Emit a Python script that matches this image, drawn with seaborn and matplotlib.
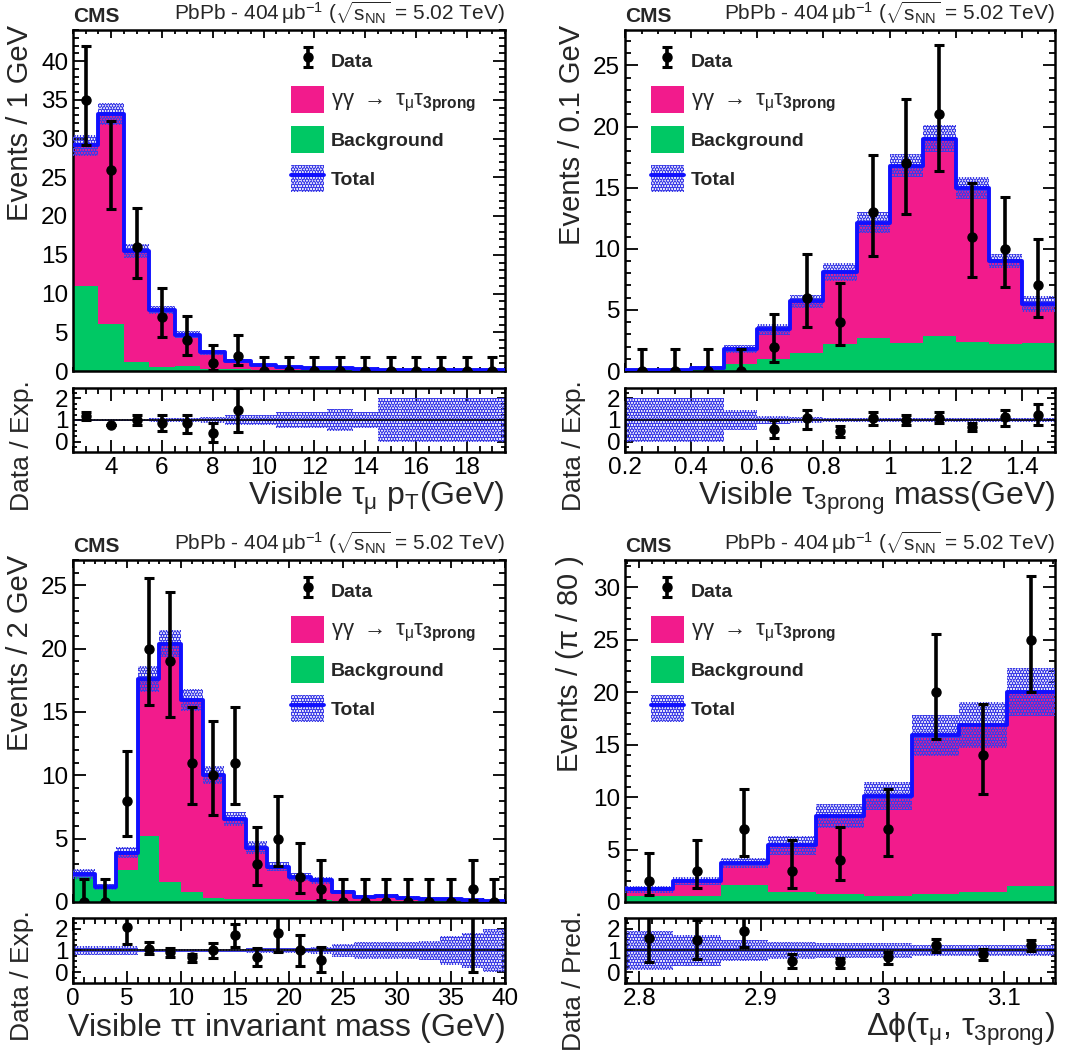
import numpy as np
import pandas as pd
import matplotlib
matplotlib.use("Agg")
import matplotlib.pyplot as plt
from matplotlib.ticker import MultipleLocator, FuncFormatter
from matplotlib.patches import Patch
from matplotlib.lines import Line2D
import seaborn as sns

sns.set_style("ticks")
plt.rcParams['font.family'] = ['Liberation Sans', 'DejaVu Sans']
plt.rcParams['mathtext.fontset'] = 'custom'
plt.rcParams['mathtext.rm'] = 'Liberation Sans'
plt.rcParams['mathtext.it'] = 'Liberation Sans'
plt.rcParams['mathtext.bf'] = 'Liberation Sans:bold'
plt.rcParams['hatch.linewidth'] = 2.2

PINK = '#f21b8c'
GREEN = '#00c864'
BLUE = '#1010ff'
HATCH = '#3c3ce6'
NaN = np.nan

# ---------------- panel a : visible tau_mu pT ----------------
a_edges = np.arange(2.5, 20.0, 1.0)
a_total = [29.1, 33.2, 15.5, 7.9, 4.7, 2.4, 1.3, 0.77, 0.47, 0.35, 0.43, 0.2, 0.17, 0.15, 0.13, 0.13, 0.12]
a_bkg = [11.0, 6.1, 1.2, 0.55, 0.7, 0.3, 0.2, 0.15, 0.1, 0.08, 0.1, 0.05, 0.05, 0.04, 0.03, 0.03, 0.02]
a_unc = [1.35, 1.4, 0.9, 0.55, 0.4, 0.3, 0.2, 0.15, 0.12, 0.1, 0.15, 0.07, 0.1, 0.1, 0.08, 0.08, 0.08]
a_data = [35, 26, 16, 7, 4, 1, 2, 0, 0, 0, 0, 0, 0, 0, 0, 0, 0]
a_dn = [5.9, 5.1, 4.0, 2.58, 1.91, 0.83, 1.29, 0, 0, 0, 0, 0, 0, 0, 0, 0, 0]
a_up = [7.0, 6.2, 5.0, 3.77, 3.16, 2.3, 2.64, 1.84, 1.84, 1.84, 1.84, 1.84, 1.84, 1.84, 1.84, 1.84, 1.84]
a_ratio = [1.18, 0.78, 1.0, 0.88, 0.85, 0.4, 1.45, NaN, NaN, NaN, NaN, NaN, NaN, NaN, NaN, NaN, NaN]
a_rdn = [0.2, 0.0, 0.25, 0.38, 0.45, 0.4, 1.0, NaN, NaN, NaN, NaN, NaN, NaN, NaN, NaN, NaN, NaN]
a_rup = [0.2, 0.0, 0.25, 0.34, 0.4, 0.45, 1.05, NaN, NaN, NaN, NaN, NaN, NaN, NaN, NaN, NaN, NaN]
a_rband = [0.05, 0.05, 0.06, 0.07, 0.09, 0.12, 0.25, 0.25, 0.38, 0.38, 0.5, 0.36, 1.0, 1.0, 1.0, 1.0, 1.0]

# ---------------- panel b : visible tau_3prong mass ----------------
b_edges = np.round(np.arange(0.2, 1.55, 0.1), 2)
b_total = [0.05, 0.05, 0.27, 1.8, 3.4, 5.7, 8.1, 12.15, 16.8, 19.0, 14.95, 9.0, 5.45]
b_bkg = [0.0, 0.0, 0.15, 0.57, 0.95, 1.45, 2.2, 2.7, 2.3, 2.9, 2.4, 2.25, 2.3]
b_unc = [0.05, 0.05, 0.1, 0.35, 0.45, 0.55, 0.7, 0.85, 0.95, 1.1, 0.9, 0.55, 0.65]
b_data = [0, 0, 0, 0, 2, 6, 4, 13, 17, 21, 11, 10, 7]
b_dn = [0, 0, 0, 0, 1.29, 2.38, 1.91, 3.58, 4.12, 4.6, 3.27, 3.11, 2.58]
b_up = [1.84, 1.84, 1.84, 1.84, 2.64, 3.58, 3.16, 4.71, 5.22, 5.68, 4.42, 4.26, 3.77]
b_ratio = [NaN, NaN, NaN, NaN, 0.6, 1.07, 0.48, 1.07, 1.0, 1.1, 0.66, 1.12, 1.25]
b_rdn = [NaN, NaN, NaN, NaN, 0.45, 0.49, 0.26, 0.32, 0.25, 0.25, 0.18, 0.42, 0.5]
b_rup = [NaN, NaN, NaN, NaN, 0.4, 0.41, 0.22, 0.3, 0.25, 0.25, 0.19, 0.36, 0.5]
b_rband = [1.0, 1.0, 1.0, 0.48, 0.2, 0.12, 0.1, 0.08, 0.07, 0.07, 0.07, 0.07, 0.08]

# ---------------- panel c : visible tautau invariant mass ----------------
c_edges = np.arange(0.0, 41.0, 2.0)
c_total = [2.2, 1.2, 3.9, 17.6, 20.4, 15.95, 10.0, 6.55, 4.3, 2.8, 1.95, 1.7, 0.8, 0.4, 0.5, 0.35, 0.27, 0.2, 0.15, 0.05]
c_bkg = [2.0, 1.15, 2.5, 5.2, 1.6, 0.75, 0.3, 0.25, 0.2, 0.2, 0.15, 0.15, 0.1, 0.08, 0.06, 0.05, 0.05, 0.04, 0.03, 0.02]
c_unc = [0.4, 0.25, 0.45, 1.05, 1.05, 0.9, 0.7, 0.55, 0.5, 0.35, 0.3, 0.25, 0.15, 0.12, 0.12, 0.1, 0.1, 0.08, 0.08, 0.05]
c_data = [0, 0, 8, 20, 19, 11, 10, 11, 3, 5, 2, 1, 0, 0, 0, 0, 0, 0, 1, 0]
c_dn = [0, 0, 2.77, 4.48, 4.36, 3.27, 3.11, 3.27, 1.63, 2.16, 1.29, 0.83, 0, 0, 0, 0, 0, 0, 0.83, 0]
c_up = [1.84, 1.84, 3.95, 5.56, 5.45, 4.42, 4.26, 4.42, 2.92, 3.38, 2.64, 2.3, 1.84, 1.84, 1.84, 1.84, 1.84, 1.84, 2.3, 1.84]
c_ratio = [NaN, NaN, 2.05, 1.08, 0.92, 0.69, 1.0, 1.69, 0.69, 1.78, 1.0, 0.58, NaN, NaN, NaN, NaN, NaN, NaN, 6.0, NaN]
c_rdn = [NaN, NaN, 0.77, 0.23, 0.23, 0.21, 0.34, 0.52, 0.41, 0.86, 0.72, 0.58, NaN, NaN, NaN, NaN, NaN, NaN, 6.0, NaN]
c_rup = [NaN, NaN, 1.0, 0.32, 0.2, 0.16, 0.32, 0.51, 0.43, 0.75, 0.7, 0.59, NaN, NaN, NaN, NaN, NaN, NaN, 2.0, NaN]
c_rband = [0.2, 0.2, 0.2, 0.06, 0.05, 0.06, 0.07, 0.08, 0.1, 0.12, 0.13, 0.15, 0.28, 0.4, 0.4, 0.4, 0.45, 0.64, 0.78, 1.0]

# ---------------- panel d : delta phi ----------------
d_edges = np.pi * np.arange(71, 81) / 80.0
d_total = [1.2, 2.0, 3.7, 5.4, 8.2, 10.1, 15.9, 16.9, 20.0]
d_bkg = [0.57, 0.57, 1.6, 0.95, 0.8, 0.57, 0.8, 1.0, 1.5]
d_unc = [0.3, 0.4, 0.5, 0.9, 1.15, 1.3, 1.95, 2.2, 2.3]
d_data = [2, 3, 7, 3, 4, 7, 20, 14, 25]
d_dn = [1.29, 1.63, 2.58, 1.63, 1.91, 2.58, 4.48, 3.7, 4.97]
d_up = [2.64, 2.92, 3.77, 2.92, 3.16, 3.77, 5.56, 4.83, 6.06]
d_ratio = [1.58, 1.48, 1.9, 0.54, 0.46, 0.7, 1.25, 0.82, 1.25]
d_rdn = [1.1, 0.85, 0.73, 0.34, 0.26, 0.3, 0.31, 0.27, 0.28]
d_rup = [1.0, 0.9, 0.7, 0.32, 0.2, 0.24, 0.29, 0.23, 0.25]
d_rband = [0.9, 0.7, 0.5, 0.38, 0.35, 0.32, 0.26, 0.26, 0.26]

panels = [
    dict(edges=a_edges, total=a_total, bkg=a_bkg, unc=a_unc, data=a_data, dn=a_dn, up=a_up,
         ratio=a_ratio, rdn=a_rdn, rup=a_rup, rband=a_rband, ymax=44.0,
         xmaj=2, xmin=0.5, ylabel="Events / 1 GeV", rlabel="Data / Exp.",
         xlabel=r"Visible $\tau_{\mu}$ $\mathrm{p_{T}}$(GeV)", legx=0.505),
    dict(edges=b_edges, total=b_total, bkg=b_bkg, unc=b_unc, data=b_data, dn=b_dn, up=b_up,
         ratio=b_ratio, rdn=b_rdn, rup=b_rup, rband=b_rband, ymax=27.9,
         xmaj=0.2, xmin=0.05, ylabel="Events / 0.1 GeV", rlabel="Data / Exp.",
         xlabel=r"Visible $\tau_{\mathrm{3prong}}$ mass(GeV)", legx=0.06),
    dict(edges=c_edges, total=c_total, bkg=c_bkg, unc=c_unc, data=c_data, dn=c_dn, up=c_up,
         ratio=c_ratio, rdn=c_rdn, rup=c_rup, rband=c_rband, ymax=27.0,
         xmaj=5, xmin=1, ylabel="Events / 2 GeV", rlabel="Data / Exp.",
         xlabel=r"Visible $\tau\tau$ invariant mass (GeV)", legx=0.505),
    dict(edges=d_edges, total=d_total, bkg=d_bkg, unc=d_unc, data=d_data, dn=d_dn, up=d_up,
         ratio=d_ratio, rdn=d_rdn, rup=d_rup, rband=d_rband, ymax=32.6,
         xmaj=0.1, xmin=0.01, ylabel=r"Events / ($\pi$ / 80 )", rlabel="Data / Pred.",
         xlabel=r"$\Delta\phi(\tau_{\mu},\,\tau_{\mathrm{3prong}})$", legx=0.06),
]

W, H = 1081, 1055
fig = plt.figure(figsize=(W / 100, H / 100), dpi=100)

# pixel boxes (left, top, right, bottom) for main and ratio pads
main_boxes = [(73, 30, 505, 371), (625, 30, 1055, 371), (73, 560, 505, 902), (625, 560, 1055, 902)]
ratio_boxes = [(73, 388, 505, 452), (625, 388, 1055, 452), (73, 918, 505, 983), (625, 918, 1055, 983)]

short_fmt = FuncFormatter(lambda v, pos: f"{v:g}")


def box_axes(b):
    l, t, r, bt = b
    return fig.add_axes([l / W, 1 - bt / H, (r - l) / W, (bt - t) / H])


def style_axis(ax, xmaj, xmin, ymaj, ymin, xlen, ylen):
    ax.xaxis.set_major_locator(MultipleLocator(xmaj))
    ax.xaxis.set_minor_locator(MultipleLocator(xmin))
    ax.yaxis.set_major_locator(MultipleLocator(ymaj))
    ax.yaxis.set_minor_locator(MultipleLocator(ymin))
    ax.xaxis.set_major_formatter(short_fmt)
    ax.yaxis.set_major_formatter(short_fmt)
    ax.tick_params(which='both', direction='in', top=True, right=True, width=1.3,
                   labelsize=17.5, colors='black')
    ax.tick_params(axis='x', which='major', length=xlen)
    ax.tick_params(axis='x', which='minor', length=xlen / 2)
    ax.tick_params(axis='y', which='major', length=ylen)
    ax.tick_params(axis='y', which='minor', length=ylen / 2)
    for s in ax.spines.values():
        s.set_linewidth(1.8)
        s.set_color('black')
        s.set_visible(True)


ebar_kw = dict(fmt='o', color='black', markersize=6.5, elinewidth=2.6, capsize=3.6, capthick=2.2, zorder=6)

for p, mb, rb in zip(panels, main_boxes, ratio_boxes):
    edges = p['edges']
    bins = list(edges)
    centers = 0.5 * (edges[:-1] + edges[1:])
    width = edges[1] - edges[0]
    total = np.array(p['total'])
    unc = np.array(p['unc'])
    hist_df = pd.DataFrame({'x': centers, 'total': total, 'bkg': p['bkg']})

    ax = box_axes(mb)
    sns.histplot(data=hist_df, x='x', weights='total', bins=bins, element='step', fill=True,
                 color=PINK, alpha=1, linewidth=0, ax=ax)
    sns.histplot(data=hist_df, x='x', weights='bkg', bins=bins, element='step', fill=True,
                 color=GREEN, alpha=1, linewidth=0, ax=ax)
    ax.bar(centers, 2 * unc, bottom=total - unc, width=width, facecolor='none',
           edgecolor=HATCH, hatch='......', linewidth=0, zorder=3)
    sns.histplot(data=hist_df, x='x', weights='total', bins=bins, element='step', fill=False,
                 color=BLUE, linewidth=2.8, ax=ax, zorder=4)
    eb = ax.errorbar(centers, p['data'], yerr=[p['dn'], p['up']], **ebar_kw)
    ax.set_xlim(edges[0], edges[-1])
    ax.set_ylim(0, p['ymax'])
    style_axis(ax, p['xmaj'], p['xmin'], 5, 1, 6, 9)
    ax.set_xticklabels([])
    ax.set_xlabel("")
    ax.set_ylabel(p['ylabel'], fontsize=21, loc='top')
    ax.yaxis.set_label_coords(-0.09, 1.015)

    ax.text(0.0, 1.012, "CMS", transform=ax.transAxes, fontsize=15, fontweight='bold',
            ha='left', va='bottom')
    ax.text(1.0, 1.012, r"PbPb - 404$\,\mu$b$^{-1}$ ($\sqrt{\mathrm{s_{NN}}}$ = 5.02 TeV)",
            transform=ax.transAxes, fontsize=15, ha='right', va='bottom')

    handles = [eb,
               Patch(facecolor=PINK, edgecolor='none'),
               Patch(facecolor=GREEN, edgecolor='none'),
               (Patch(facecolor='none', edgecolor=HATCH, hatch='......', linewidth=0),
                Line2D([], [], color=BLUE, linewidth=2.8))]
    labels = ["Data", r"$\gamma\gamma\ \rightarrow\ \tau_{\mu}\tau_{\mathbf{3prong}}$",
              "Background", "Total"]
    leg = ax.legend(handles, labels, loc='upper left', bbox_to_anchor=(p['legx'], 0.95),
                    frameon=False, borderpad=0, borderaxespad=0, handlelength=1.7,
                    handleheight=1.75, labelspacing=0.62, handletextpad=0.35,
                    prop={'weight': 'bold', 'size': 14})
    leg.get_texts()[1].set_fontsize(16)

    rx = box_axes(rb)
    rband = np.array(p['rband'])
    rx.bar(centers, 2 * rband, bottom=1 - rband, width=width, facecolor='none',
           edgecolor=HATCH, hatch='......', linewidth=0, zorder=2)
    rx.axhline(1.0, color='black', linewidth=1.2, zorder=3)
    rx.errorbar(centers, p['ratio'], yerr=[p['rdn'], p['rup']], **ebar_kw)
    rx.set_xlim(edges[0], edges[-1])
    rx.set_ylim(-0.48, 2.48)
    style_axis(rx, p['xmaj'], p['xmin'], 1, 0.25, 9, 6)
    rx.set_ylabel(p['rlabel'], fontsize=19, loc='top')
    rx.yaxis.set_label_coords(-0.09, 1.12)
    rx.set_xlabel(p['xlabel'], fontsize=23, loc='right', labelpad=1)

fig.savefig("out.png", dpi=100)
